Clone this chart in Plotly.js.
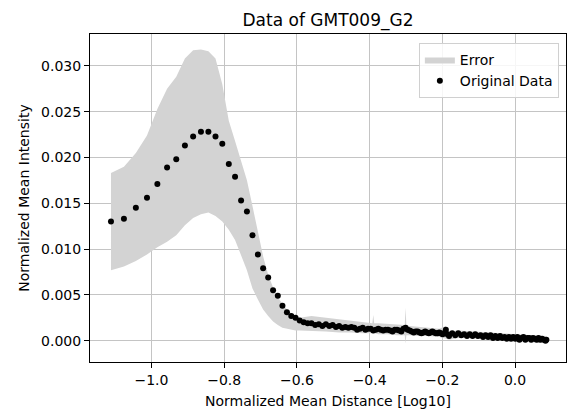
<!DOCTYPE html>
<html><head><meta charset="utf-8">
<script src="https://cdn.plot.ly/plotly-3.0.1.min.js"></script>
<style>html,body{margin:0;padding:0;background:#fff;}#chart{width:568px;height:417px;}</style>
</head><body><div id="chart"></div>
<script>
// Original data points (x = log10 normalized mean distance, y = normalized mean intensity)
const xData = [-1.1113,-1.0757,-1.0429,-1.0123,-0.9838,-0.9570,-0.9318,-0.9080,-0.8854,-0.8639,
  -0.8434,-0.8239,-0.8052,-0.7873,-0.7701,-0.7535,-0.7375,-0.7222,-0.7073,-0.6929,
  -0.6790,-0.6655,-0.6525,-0.6398,-0.6275,-0.6155,-0.6038,-0.5924,-0.5814,-0.5706,
  -0.5600,-0.5498,-0.5397,-0.5299,-0.5203,-0.5109,-0.5017,-0.4927,-0.4839,-0.4752,-0.4667,
  -0.4584,-0.4503,-0.4422,-0.4344,-0.4267,-0.4191,-0.4116,-0.4043,-0.3971,-0.3900,
  -0.3830,-0.3761,-0.3694,-0.3627,-0.3562,-0.3497,-0.3433,-0.3371,-0.3309,-0.3248,
  -0.3188,-0.3128,-0.3070,-0.3012,-0.2955,-0.2899,-0.2843,-0.2788,-0.2734,-0.2681,
  -0.2628,-0.2576,-0.2524,-0.2473,-0.2423,-0.2373,-0.2324,-0.2275,-0.2227,-0.2180,
  -0.2133,-0.2086,-0.2040,-0.1994,-0.1949,-0.1904,-0.1860,-0.1816,
  -0.1730,-0.1646,-0.1563,-0.1481,-0.1401,-0.1323,
  -0.1246,-0.1170,-0.1096,-0.1023,-0.0951,-0.0880,-0.0810,-0.0742,-0.0674,-0.0608,
  -0.0542,-0.0478,-0.0414,-0.0352,-0.0290,-0.0229,-0.0169,-0.0110,-0.0052,0.0006,
  0.0063,0.0119,0.0175,0.0229,0.0283,0.0337,0.0390,0.0442,0.0493,0.0544,
  0.0594,0.0644,0.0693,0.0741,0.0789,0.0837,0.0861];
const yData = [0.0130,0.0133,0.0145,0.0156,0.0171,0.0189,0.0198,0.0213,0.0223,0.0228,
  0.0228,0.0223,0.0215,0.0193,0.0179,0.0153,0.0141,0.0115,0.0094,0.0079,
  0.0069,0.0055,0.0049,0.0038,0.0031,0.0027,0.0025,0.0022,0.0020,0.0019,
  0.0019,0.0017,0.0018,0.0016,0.0018,0.0016,0.0017,0.0015,0.0016,0.0014,0.0015,
  0.0014,0.0015,0.0014,0.0012,0.0013,0.0014,0.0012,0.0013,0.0013,0.0011,
  0.0012,0.0013,0.0012,0.0011,0.0012,0.0012,0.0011,0.0010,0.0012,0.0012,
  0.0011,0.0010,0.0013,0.0014,0.0012,0.0011,0.0010,0.0009,0.0010,0.0010,
  0.0009,0.0008,0.0009,0.0010,0.0009,0.0008,0.0009,0.0010,0.0009,0.0008,
  0.0008,0.0009,0.0008,0.0007,0.0008,0.0012,0.0007,0.0005,
  0.0008,0.0006,0.0008,0.0006,0.0007,0.0005,
  0.0007,0.0005,0.0007,0.0005,0.0006,0.0004,0.0006,0.0004,0.0006,0.0003,
  0.0005,0.0003,0.0005,0.0003,0.0004,0.0002,0.0004,0.0002,0.0004,0.0002,
  0.0004,0.0001,0.0003,0.0004,0.0001,0.0003,0.0003,0.0001,0.0003,0.0002,
  0.0001,0.0003,0.0001,0.0002,0.0001,0.0000,0.0001];

// Error band (upper / lower envelope)
const errX = [-1.1113,-1.0757,-1.0429,-1.0123,-0.9838,-0.9570,-0.9318,-0.9080,-0.8854,-0.8639,
  -0.8434,-0.8239,-0.8052,-0.7873,-0.7701,-0.7535,-0.7375,-0.7222,-0.7073,-0.6929,
  -0.6790,-0.6655,-0.6525,-0.6398,-0.6275,-0.6155,-0.6038,-0.5924,
  -0.5600,-0.5203,-0.4839,-0.4503,-0.4191,-0.4043,-0.3925,-0.3900,-0.3875,-0.3761,
  -0.3497,-0.3248,-0.3128,-0.3035,-0.3012,-0.2990,-0.2899,-0.2681,-0.2373,-0.2086,
  -0.1904,-0.1816,-0.1563,-0.1170,-0.0742,-0.0290,0.0119,0.0544,0.0861];
const errUpper = [0.0183,0.0190,0.0205,0.0224,0.0253,0.0275,0.0288,0.0308,0.0317,0.0318,
  0.0316,0.0308,0.0280,0.0240,0.0218,0.0196,0.0175,0.0147,0.0117,0.0092,
  0.0072,0.0058,0.0047,0.0040,0.0034,0.0030,0.0027,0.0025,
  0.0027,0.0025,0.0023,0.0022,0.0020,0.0019,0.0019,0.0028,0.0019,0.0019,
  0.0018,0.0017,0.0017,0.0017,0.0036,0.0017,0.0016,0.0015,0.0014,0.0013,
  0.0016,0.0010,0.0011,0.0010,0.0009,0.0008,0.0007,0.0006,0.0005];
const errLower = [0.0077,0.0081,0.0087,0.0094,0.0102,0.0108,0.0115,0.0126,0.0134,0.0138,
  0.0140,0.0136,0.0130,0.0121,0.0110,0.0094,0.0077,0.0057,0.0045,0.0034,
  0.0027,0.0021,0.0017,0.0014,0.0013,0.0012,0.0011,0.0011,
  0.0011,0.0010,0.0009,0.0009,0.0008,0.0008,0.0008,0.0008,0.0008,0.0007,
  0.0007,0.0006,0.0006,0.0006,-0.0003,0.0006,0.0006,0.0005,0.0005,0.0004,
  0.0002,0.0001,0.0003,0.0003,0.0002,0.0000,-0.0001,-0.0002,-0.0002];

const chartTitle = 'Data of GMT009_G2';
const xLabel = 'Normalized Mean Distance [Log10]';
const yLabel = 'Normalized Mean Intensity';

const bandX = errX.concat(errX.slice().reverse());
const bandY = errUpper.concat(errLower.slice().reverse());

const traces = [
  {type:'scatter', mode:'lines', name:'Error', x:bandX, y:bandY, fill:'toself',
   fillcolor:'#d3d3d3', line:{width:0, color:'rgba(0,0,0,0)'}, hoverinfo:'skip'},
  {type:'scatter', mode:'markers', name:'Original Data', x:xData, y:yData,
   marker:{color:'#000', size:6, line:{width:0}}}
];

const axisCommon = {showgrid:true, gridcolor:'#c4c4c4', gridwidth:1, zeroline:false,
  showline:true, mirror:true, linecolor:'#000', linewidth:1, ticks:'outside', ticklen:5,
  tickcolor:'#000', tickwidth:1, automargin:false, tickfont:{size:14, color:'#000'}};

const layout = {
  width:568, height:417,
  margin:{l:90, r:2, t:34, b:55},
  paper_bgcolor:'#fff', plot_bgcolor:'#fff',
  font:{family:'DejaVu Sans', size:14, color:'#000'},
  title:{text:chartTitle, font:{size:17, color:'#000'}, x:0.5, xref:'paper', xanchor:'center',
         y:1-20/417, yref:'container', yanchor:'middle'},
  xaxis:Object.assign({}, axisCommon, {range:[-1.169,0.140], tick0:0, dtick:0.2, tickformat:'.1f',
         title:{text:xLabel, font:{size:14}, standoff:9}}),
  yaxis:Object.assign({}, axisCommon, {range:[-0.00233,0.03348], tick0:0, dtick:0.005, tickformat:'.3f',
         title:{text:yLabel, font:{size:14}, standoff:8}}),
  legend:{x:0.985, xanchor:'right', y:0.9726, yanchor:'top', bgcolor:'rgba(255,255,255,0.85)',
          bordercolor:'#d0d0d0', borderwidth:1, font:{size:14}, traceorder:'normal'},
  showlegend:true
};

Plotly.newPlot('chart', traces, layout, {displayModeBar:false, staticPlot:true});
</script></body></html>
